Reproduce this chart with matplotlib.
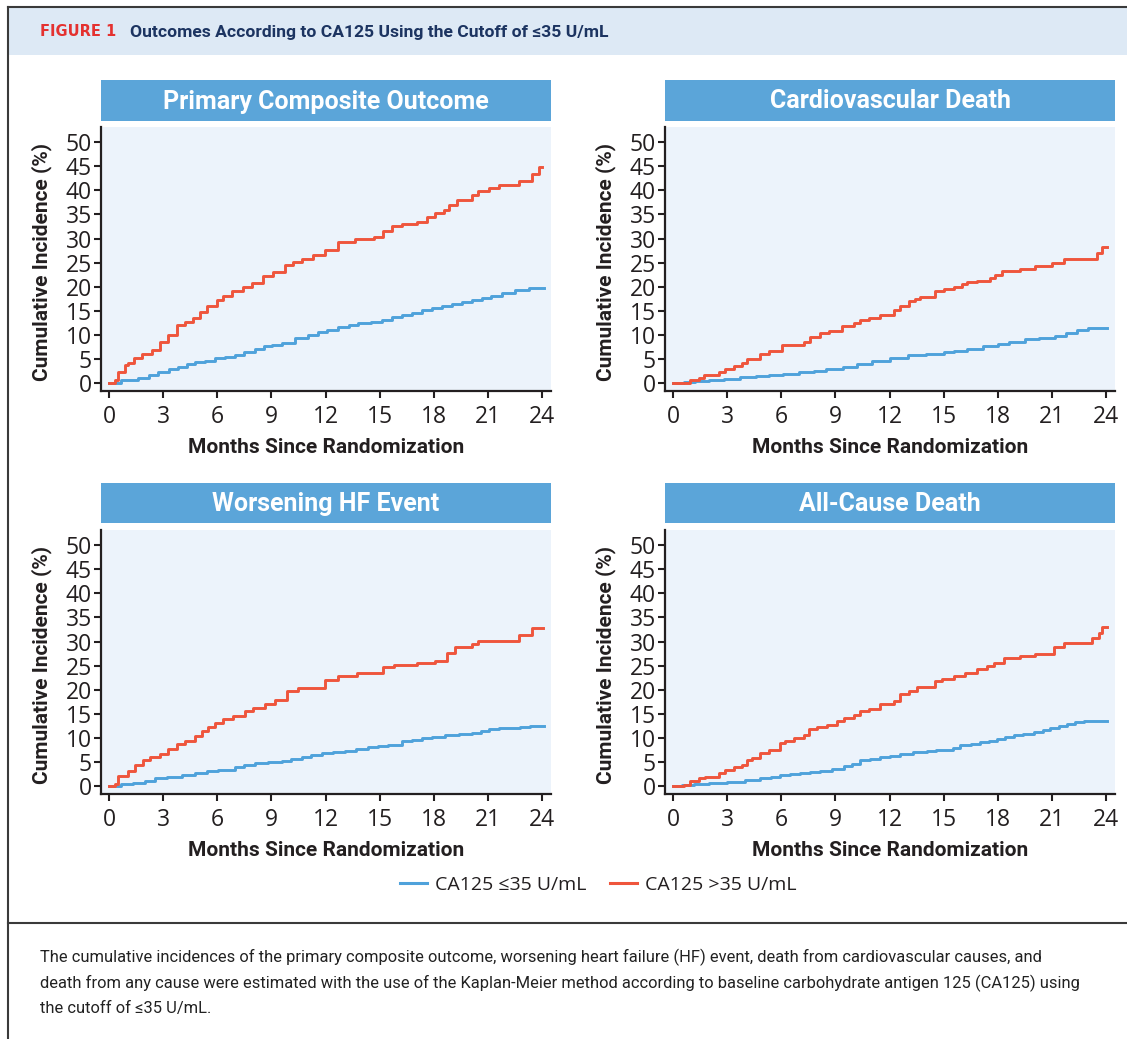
import matplotlib
matplotlib.use("Agg")
import matplotlib.pyplot as plt
from matplotlib.patches import Rectangle
from matplotlib.lines import Line2D

# --- data: Kaplan-Meier cumulative incidence (%), months since randomization ---
# primary composite outcome
pco_low_t = [0, 0.68, 1.61, 2.2, 2.72, 3.3, 3.83, 4.3, 4.76, 5.3, 5.87, 6.4, 6.98, 7.5, 8.09, 8.6,
             9.01, 9.57, 10.31, 11.0, 11.6, 12.1, 12.71, 13.3, 13.82, 14.5, 15.12, 15.7, 16.23,
             16.8, 17.34, 17.9, 18.45, 19.0, 19.56, 20.1, 20.67, 21.2, 21.78, 22.52, 23.26, 24.1]
pco_low_v = [0, 0.5, 0.9, 1.6, 2.2, 2.8, 3.3, 3.9, 4.2, 4.6, 5.1, 5.4, 5.8, 6.4, 7.0, 7.6,
             7.8, 8.2, 9.2, 10.0, 10.6, 11.0, 11.5, 12.0, 12.4, 12.7, 13.1, 13.6, 14.1,
             14.6, 15.1, 15.5, 16.0, 16.3, 16.7, 17.2, 17.7, 18.1, 18.6, 19.2, 19.7, 19.8]
pco_high_t = [0, 0.31, 0.50, 0.87, 1.05, 1.39, 1.80, 2.35, 2.81, 3.28, 3.79, 4.20, 4.66, 5.03,
              5.40, 5.96, 6.33, 6.79, 7.44, 7.90, 8.55, 9.10, 9.75, 10.21, 10.68, 11.32, 11.97,
              12.71, 13.64, 14.66, 15.21, 15.67, 16.23, 17.06, 17.62, 18.08, 18.54, 18.82,
              19.28, 20.11, 20.48, 21.04, 21.63, 22.71, 23.45, 23.82, 24.0]
pco_high_v = [0, 0.6, 2.2, 3.7, 4.0, 5.1, 6.0, 6.8, 8.5, 9.9, 12.0, 12.7, 13.4, 14.8,
              16.0, 17.2, 18.1, 19.0, 20.0, 20.7, 22.1, 23.1, 24.5, 25.2, 25.8, 26.5, 27.6,
              29.2, 29.9, 30.4, 31.6, 32.5, 33.1, 33.5, 34.5, 35.3, 36.0, 37.0,
              38.1, 39.1, 39.8, 40.5, 41.2, 42.0, 43.4, 44.8, 44.8]

# cardiovascular death
cvd_low_t = [0, 0.6, 1.2, 2.0, 2.8, 3.7, 4.6, 5.3, 6.1, 7.0, 7.8, 8.5, 9.4, 10.2, 11.0, 12.0,
             13.0, 14.0, 15.0, 15.6, 16.3, 17.2, 18.0, 18.6, 19.5, 20.3, 21.2, 21.8, 22.4,
             23.0, 24.06]
cvd_low_v = [0, 0.1, 0.3, 0.5, 0.7, 1.1, 1.4, 1.5, 1.9, 2.2, 2.4, 2.8, 3.3, 3.8, 4.5, 5.2,
             5.8, 6.0, 6.3, 6.6, 7.1, 7.6, 8.0, 8.5, 9.0, 9.4, 9.8, 10.3, 10.9,
             11.3, 11.3]
cvd_high_t = [0, 0.92, 1.42, 1.70, 2.53, 2.90, 3.36, 3.82, 4.10, 4.84, 5.30, 6.04, 7.24, 7.61,
              8.17, 8.63, 9.37, 10.01, 10.38, 10.85, 11.49, 12.23, 12.60, 13.06, 13.43, 13.71,
              14.54, 15.00, 15.56, 16.02, 16.30, 16.85, 17.59, 17.87, 18.24, 19.25, 20.08,
              21.01, 21.66, 23.50, 23.78, 24.06]
cvd_high_v = [0, 0.55, 0.9, 1.6, 2.3, 2.8, 3.4, 4.0, 4.9, 5.9, 6.6, 7.8, 8.5, 9.6,
              10.3, 10.8, 11.7, 12.4, 13.1, 13.5, 14.1, 15.1, 16.0, 16.9, 17.4, 17.9,
              19.0, 19.5, 20.0, 20.5, 20.9, 21.2, 21.7, 22.4, 23.3, 23.7, 24.2,
              24.9, 25.7, 26.9, 28.3, 28.3]

# worsening HF event
whf_low_t = [0, 0.68, 1.3, 1.98, 2.54, 3.2, 4.02, 4.76, 5.4, 6.05, 6.98, 7.5, 8.09, 8.8, 9.57,
             10.1, 10.68, 11.2, 11.79, 12.4, 13.08, 13.7, 14.38, 14.9, 15.49, 16.23, 16.8,
             17.34, 17.9, 18.64, 19.4, 20.11, 20.6, 21.04, 21.6, 22.15, 22.8, 23.35, 24.1]
whf_low_v = [0, 0.35, 0.6, 0.9, 1.5, 1.8, 2.2, 2.6, 3.0, 3.3, 3.8, 4.2, 4.7, 4.9, 5.1,
             5.5, 5.9, 6.3, 6.7, 7.0, 7.3, 7.6, 8.0, 8.2, 8.5, 9.2, 9.6,
             9.9, 10.1, 10.5, 10.8, 11.0, 11.3, 11.7, 11.9, 12.0, 12.2, 12.5, 12.5]
whf_high_t = [0, 0.31, 0.50, 1.05, 1.42, 1.89, 2.26, 2.81, 3.28, 3.79, 4.20, 4.76, 5.13, 5.50,
              5.87, 6.33, 6.88, 7.53, 7.99, 8.64, 9.20, 9.84, 10.49, 11.97, 12.71, 13.73,
              15.21, 15.77, 17.06, 18.08, 18.73, 19.19, 20.11, 20.48, 22.71, 23.45, 24.05]
whf_high_v = [0, 0.3, 2.0, 3.0, 4.4, 5.3, 5.9, 6.6, 7.7, 8.7, 9.4, 10.3, 11.3, 12.2,
              13.1, 13.8, 14.4, 15.5, 16.2, 16.9, 17.9, 19.7, 20.3, 21.9, 22.9, 23.5,
              24.7, 25.2, 25.6, 26.0, 27.6, 28.8, 29.5, 30.2, 31.3, 32.8, 32.8]

# all-cause death
acd_low_t = [0, 0.5, 1.15, 2.0, 2.99, 4.0, 4.84, 5.4, 5.95, 6.5, 7.06, 7.6, 8.17, 8.8, 9.46,
             9.9, 10.38, 10.9, 11.49, 12.0, 12.6, 13.3, 14.08, 14.6, 15.0, 15.5, 15.93, 16.5,
             17.04, 17.5, 17.96, 18.4, 18.88, 19.4, 19.99, 20.5, 20.92, 21.4, 21.84, 22.3,
             22.76, 23.2, 24.06]
acd_low_v = [0, 0.1, 0.35, 0.6, 0.75, 1.2, 1.6, 1.9, 2.2, 2.4, 2.6, 2.8, 3.1, 3.5, 4.0,
             4.6, 5.3, 5.6, 5.9, 6.2, 6.6, 7.0, 7.2, 7.4, 7.5, 7.9, 8.4, 8.7,
             9.0, 9.4, 9.8, 10.1, 10.5, 10.8, 11.2, 11.6, 12.0, 12.4, 12.8, 13.2,
             13.5, 13.5, 13.5]
acd_high_t = [0, 0.59, 0.96, 1.42, 1.79, 2.53, 2.90, 3.36, 3.82, 4.10, 4.38, 4.84, 5.30, 5.95,
              6.23, 6.69, 7.24, 7.52, 7.98, 8.54, 9.09, 9.46, 10.01, 10.38, 10.85, 11.49,
              12.23, 12.60, 13.06, 13.53, 14.54, 14.91, 15.56, 16.20, 16.85, 17.41, 17.78,
              18.33, 19.25, 20.08, 21.10, 21.66, 23.23, 23.60, 23.78, 24.06]
acd_high_v = [0, 0.2, 0.9, 1.5, 1.9, 2.6, 3.3, 3.8, 4.4, 5.3, 5.8, 6.8, 7.5, 8.9,
              9.2, 9.9, 10.6, 11.7, 12.2, 12.7, 13.5, 14.1, 14.7, 15.5, 16.0, 16.9,
              17.7, 19.0, 19.7, 20.5, 21.7, 22.3, 22.8, 23.5, 24.2, 24.9, 25.6,
              26.5, 26.9, 27.5, 28.8, 29.6, 30.8, 31.8, 33.1, 33.1]

panel_titles = ["Primary Composite Outcome", "Cardiovascular Death",
                "Worsening HF Event", "All-Cause Death"]
series_labels = ["CA125 \u226435 U/mL", "CA125 >35 U/mL"]
x_ticks = [0, 3, 6, 9, 12, 15, 18, 21, 24]
y_ticks = [0, 5, 10, 15, 20, 25, 30, 35, 40, 45, 50]

panels = [
    (pco_low_t, pco_low_v, pco_high_t, pco_high_v),
    (cvd_low_t, cvd_low_v, cvd_high_t, cvd_high_v),
    (whf_low_t, whf_low_v, whf_high_t, whf_high_v),
    (acd_low_t, acd_low_v, acd_high_t, acd_high_v),
]

# --- colours and fonts ---
BLUE = "#4FA2DB"
RED = "#EF553C"
BAR = "#5BA5D9"
PANEL_BG = "#ECF3FB"
HEADER_BG = "#DDE9F5"
NAVY = "#1C3461"
FIG_RED = "#E4312F"
INK = "#231F20"
FRAME = "#3A3A3A"

LABEL_FONT = ["Roboto", "DejaVu Sans"]
TICK_FONT = ["Open Sans", "DejaVu Sans"]

W, H = 1127, 1039
fig = plt.figure(figsize=(W / 100, H / 100), dpi=100)


def fx(px):
    return px / W


def fy(py):
    return 1 - py / H


# frame + header band
fig.add_artist(Rectangle((fx(9), fy(55)), 1 - fx(9), 48 / H, transform=fig.transFigure,
                         facecolor=HEADER_BG, edgecolor="none"))
fig.add_artist(Line2D([fx(8), 1], [fy(7), fy(7)], transform=fig.transFigure, color=FRAME, lw=1.5))
fig.add_artist(Line2D([fx(8), fx(8)], [fy(7), 0], transform=fig.transFigure, color=FRAME, lw=1.5))
fig.add_artist(Line2D([fx(8), 1], [fy(923), fy(923)], transform=fig.transFigure, color=FRAME, lw=1.5))

fig.text(fx(40), fy(32), "FIGURE 1", color=FIG_RED, fontsize=10.5, fontweight="bold",
         family="DejaVu Sans", va="center")
fig.text(fx(130), fy(32), "Outcomes According to CA125 Using the Cutoff of \u226435 U/mL",
         color=NAVY, fontsize=12.6, fontweight="bold", family=LABEL_FONT, va="center")

# panel geometry in pixels: (left, top, bottom) of plot area, bar top/bottom
lefts = [101, 665, 101, 665]
tops = [127, 127, 530, 530]
bottoms = [391, 391, 794, 794]
bar_tops = [80, 80, 483, 483]
bar_bots = [121, 121, 523, 523]
ax_w = 450

axes = []
for i, (lt, lv, ht, hv) in enumerate(panels):
    ax = fig.add_axes([fx(lefts[i]), fy(bottoms[i]), ax_w / W, (bottoms[i] - tops[i]) / H])
    ax.set_facecolor(PANEL_BG)
    ax.step(lt, lv, where="post", color=BLUE, lw=2.1, label=series_labels[0])
    ax.step(ht, hv, where="post", color=RED, lw=2.1, label=series_labels[1])

    ax.set_xlim(-0.45, 24.5)
    ax.set_ylim(-1.73, 53.2)
    ax.set_xticks(x_ticks)
    ax.set_yticks(y_ticks)
    for s in ("top", "right"):
        ax.spines[s].set_visible(False)
    for s in ("left", "bottom"):
        ax.spines[s].set_linewidth(1.6)
        ax.spines[s].set_color(INK)
    ax.tick_params(axis="both", length=5, width=1.5, color=INK, labelcolor=INK, labelsize=16.5)
    ax.tick_params(axis="x", pad=5)
    ax.tick_params(axis="y", pad=1.5)
    for lab in ax.get_xticklabels() + ax.get_yticklabels():
        lab.set_family(TICK_FONT)

    ax.set_xlabel("Months Since Randomization", fontsize=15, fontweight="bold",
                  family=LABEL_FONT, color=INK, va="center")
    ax.xaxis.set_label_coords(0.5, -0.215)
    ax.set_ylabel("Cumulative Incidence (%)", fontsize=15, fontweight="bold",
                  family=LABEL_FONT, color=INK, va="center")
    ax.yaxis.set_label_coords(-0.131, 0.49)

    # blue title bar above each panel
    fig.add_artist(Rectangle((fx(lefts[i]), fy(bar_bots[i])), ax_w / W,
                             (bar_bots[i] - bar_tops[i]) / H, transform=fig.transFigure,
                             facecolor=BAR, edgecolor="none"))
    fig.text(fx(lefts[i] + ax_w / 2), fy((bar_tops[i] + bar_bots[i]) / 2 + 1), panel_titles[i],
             color="white", fontsize=18, fontweight="bold", family=LABEL_FONT,
             ha="center", va="center")
    axes.append(ax)

labels = axes[0].get_legend_handles_labels()[1]
leg_handles = [Line2D([], [], color=BLUE, lw=2.2), Line2D([], [], color=RED, lw=2.2)]
fig.legend(leg_handles, labels, loc="center", bbox_to_anchor=(fx(598), fy(885)), ncol=2,
           frameon=False, handlelength=1.4, handletextpad=0.4, columnspacing=1.2,
           prop={"family": TICK_FONT, "size": 14}, labelcolor=INK)

caption = [
    "The cumulative incidences of the primary composite outcome, worsening heart failure (HF) event, "
    "death from cardiovascular causes, and",
    "death from any cause were estimated with the use of the Kaplan-Meier method according to "
    "baseline carbohydrate antigen 125 (CA125) using",
    "the cutoff of \u226435 U/mL.",
]
for k, line in enumerate(caption):
    fig.text(fx(40), fy(957 + 26 * k), line, fontsize=11.9, family=LABEL_FONT, color="#222222",
             va="center")

fig.savefig("out.png", dpi=100, facecolor="white")
